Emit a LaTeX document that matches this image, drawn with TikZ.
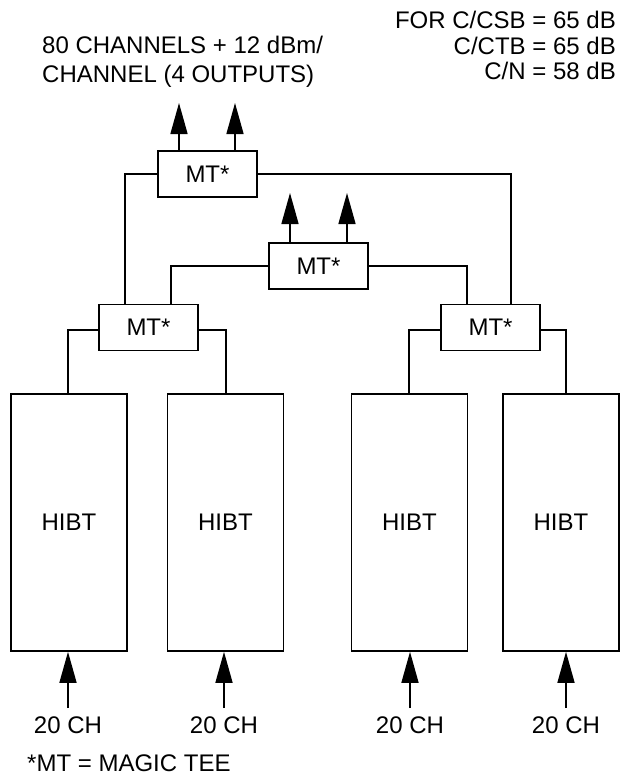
\documentclass[tikz,border=0pt]{standalone}
\usepackage{fontspec}
\setmainfont{Liberation Sans}
\usetikzlibrary{arrows.meta}
\begin{document}
\begin{tikzpicture}[x=1pt,y=-1pt,
  every node/.style={font=\fontsize{24}{28}\selectfont},
  mt/.style={draw,line width=1.6pt,minimum width=99pt,minimum height=46pt,inner sep=0pt},
  hibt/.style={draw,line width=1.6pt,minimum width=116pt,minimum height=257pt,inner sep=0pt},
  conn/.style={line width=1.5pt},
  arr/.style={line width=1.5pt,-{Triangle[length=31pt,width=17pt]}},
  lbl/.style={inner sep=0pt}]
\useasboundingbox (0,0) rectangle (621,782);
% magic tees
\node[mt] (mtT) at (207.5,174) {MT*};
\node[mt] (mtM) at (318.5,266) {MT*};
\node[mt] (mtL) at (148.5,327.5) {MT*};
\node[mt] (mtR) at (490.5,327.5) {MT*};
% HIBT boxes
\node[hibt] (h1) at (69,522.5) {HIBT};
\node[hibt] (h2) at (225.5,522.5) {HIBT};
\node[hibt] (h3) at (409.5,522.5) {HIBT};
\node[hibt] (h4) at (561,522.5) {HIBT};
% connectors between tees
\draw[conn] (mtT.west |- 0,174) -| (125,0 |- mtL.north);
\draw[conn] (mtT.east |- 0,174) -| (511,0 |- mtR.north);
\draw[conn] (mtM.west) -| (171,0 |- mtL.north);
\draw[conn] (mtM.east) -| (467,0 |- mtR.north);
% tees to HIBT
\draw[conn] (mtL.west |- 0,330) -| (h1.north -| 68,0);
\draw[conn] (mtL.east |- 0,330) -| (h2.north -| 226,0);
\draw[conn] (mtR.west |- 0,330) -| (h3.north -| 409,0);
\draw[conn] (mtR.east |- 0,330) -| (h4.north -| 566,0);
% outputs
\coordinate (o1) at (179,103);
\coordinate (o2) at (235,103);
\coordinate (o3) at (290,193);
\coordinate (o4) at (347,193);
\draw[arr] (mtT.north -| o1) -- (o1);
\draw[arr] (mtT.north -| o2) -- (o2);
\draw[arr] (mtM.north -| o3) -- (o3);
\draw[arr] (mtM.north -| o4) -- (o4);
% inputs
\node[lbl,anchor=base] (c1) at (68,733) {20 CH};
\node[lbl,anchor=base] (c2) at (224,733) {20 CH};
\node[lbl,anchor=base] (c3) at (410,733) {20 CH};
\node[lbl,anchor=base] (c4) at (566,733) {20 CH};
\coordinate (i1) at (68,708);
\coordinate (i2) at (224,708);
\coordinate (i3) at (410,708);
\coordinate (i4) at (566,708);
\draw[arr] (i1) -- (i1 |- h1.south);
\draw[arr] (i2) -- (i2 |- h2.south);
\draw[arr] (i3) -- (i3 |- h3.south);
\draw[arr] (i4) -- (i4 |- h4.south);
% texts
\node[lbl,anchor=base west] (t1) at (42,53) {80 CHANNELS + 12 dBm/};
\node[lbl,anchor=base west] (t2) at (42,82) {CHANNEL (4 OUTPUTS)};
\node[lbl,anchor=base east] (r1) at (616,28) {FOR C/CSB = 65 dB};
\node[lbl,anchor=base east] (r2) at (616,54) {C/CTB = 65 dB};
\node[lbl,anchor=base east] (r3) at (616,79) {C/N = 58 dB};
\node[lbl,anchor=base west] (note) at (27,771) {*MT = MAGIC TEE};
\end{tikzpicture}
\end{document}
